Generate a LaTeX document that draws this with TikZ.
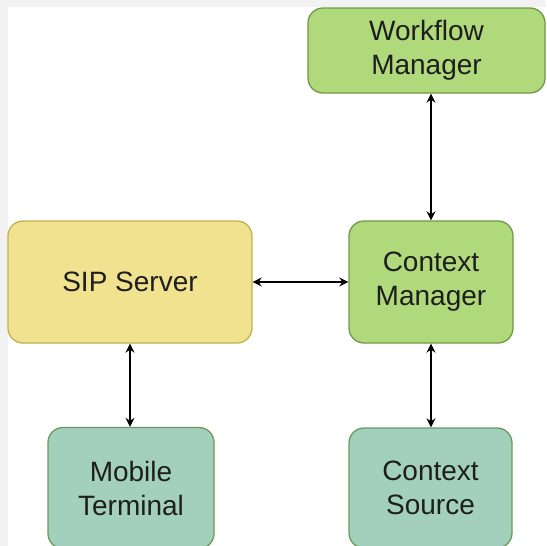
\documentclass[tikz,border=0pt]{standalone}
\usepackage{fontspec}
\setmainfont{Liberation Sans}
\usetikzlibrary{arrows.meta}
\definecolor{frame}{HTML}{F2F2F2}
\definecolor{gfill}{HTML}{B0D97C}
\definecolor{gline}{HTML}{6E9A48}
\definecolor{yfill}{HTML}{F0E28E}
\definecolor{yline}{HTML}{C2B24E}
\definecolor{tfill}{HTML}{A3D0BD}
\definecolor{tline}{HTML}{6C9A5C}
\definecolor{txt}{HTML}{1E1E1E}
\tikzset{
  box/.style={rounded corners=15pt, line width=1.3pt, text=txt,
    font=\fontsize{28}{34}\selectfont, align=center, inner sep=0pt},
  gbox/.style={box, draw=gline, fill=gfill},
  ybox/.style={box, draw=yline, fill=yfill},
  tbox/.style={box, draw=tline, fill=tfill},
  conn/.style={line width=1.4pt, {Stealth[length=9pt,width=9pt]}-{Stealth[length=9pt,width=9pt]}}
}
\begin{document}
\begin{tikzpicture}[x=1pt,y=1pt]
\useasboundingbox (0,0) rectangle (546,-546);
\fill[frame] (0,0) rectangle (546,-546);
\fill[white] (8,-7) rectangle (546,-546);
\node[gbox, minimum width=237pt, minimum height=85pt] (wm) at (426.5,-50.5) {Workflow\\Manager};
\node[gbox, minimum width=164pt, minimum height=122pt] (cm) at (431,-282) {Context\\Manager};
\node[ybox, minimum width=244pt, minimum height=122pt] (sip) at (130,-282) {SIP Server};
\node[tbox, minimum width=166pt, minimum height=121pt] (mt) at (131,-488) {Mobile\\Terminal};
\node[tbox, minimum width=163pt, minimum height=120pt] (cs) at (430.5,-488) {Context\\Source};
\draw[conn] (wm.south -| cm.north) -- (cm.north);
\draw[conn] (sip.east) -- (cm.west);
\draw[conn] (cm.south) -- (cm.south |- cs.north);
\draw[conn] (sip.south) -- (sip.south |- mt.north);
\end{tikzpicture}
\end{document}
